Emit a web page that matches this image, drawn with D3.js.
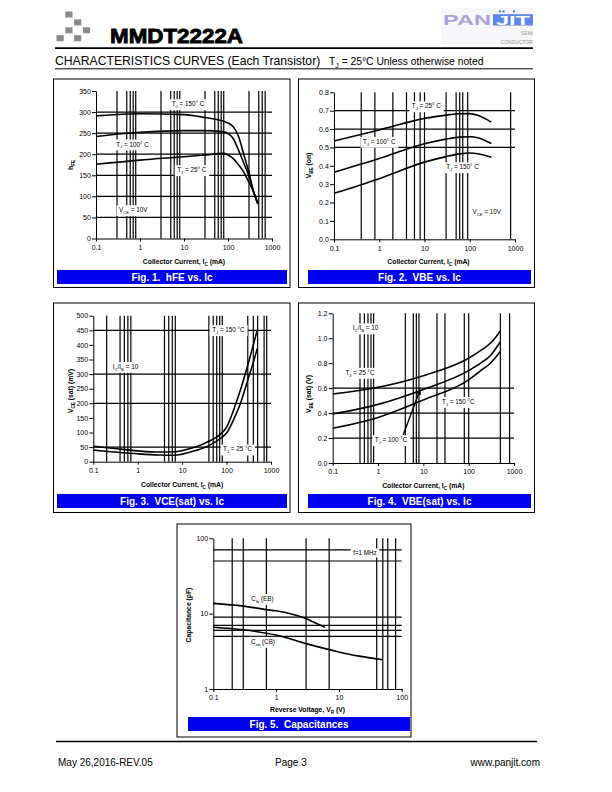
<!DOCTYPE html>
<html>
<head>
<meta charset="utf-8">
<title>MMDT2222A characteristics curves</title>
<script src="https://cdn.jsdelivr.net/npm/d3@7"></script>
<style>
  body { margin: 0; background: #fff; }
  svg { display: block; }
</style>
</head>
<body>
<script>
const FONT = "'Liberation Sans', Arial, Helvetica, sans-serif";
const BLUE = "#0000f0";

// ---- Fig. 1  hFE vs Ic
const hfeIc  = [0.1, 1, 10, 30, 80, 100, 130, 170, 230, 300, 380, 480];
const hfe150 = [291, 296, 294, 287, 278, 274, 266, 245, 198, 156, 111, 82];
const hfe100 = [242, 252, 256, 256, 253, 249, 238, 212, 178, 148, 111, 82];
const hfe25  = [176, 186, 194, 198, 202, 198, 190, 176, 157, 133, 111, 82];
const hfeTicks = [0, 50, 100, 150, 200, 250, 300, 350];
const hfeVGrid = [0.3, 0.5, 0.6, 0.7, 0.8, 3, 5, 6, 7, 8, 30, 50, 60, 70, 80, 300, 500, 600, 700];
const hfeHGrid = [50, 100, 150, 200, 250, 300];

// ---- Fig. 2  VBE(on) vs Ic
const vbeIc  = [0.1, 1, 10, 30, 60, 100, 150, 300];
const vbe25  = [0.535, 0.595, 0.658, 0.676, 0.683, 0.684, 0.675, 0.638];
const vbe100 = [0.365, 0.44, 0.52, 0.545, 0.556, 0.558, 0.553, 0.521];
const vbe150 = [0.25, 0.33, 0.42, 0.45, 0.465, 0.47, 0.466, 0.447];
const vbeTicks = [0, 0.1, 0.2, 0.3, 0.4, 0.5, 0.6, 0.7, 0.8];
const vbeVGrid = [0.4, 0.8, 2, 4, 6, 8, 10, 30, 50, 60, 70, 90, 800];
const vbeHGrid = [0.5, 0.6, 0.7];

// ---- Fig. 3  VCE(sat) vs Ic
const vceIc  = [0.1, 0.3, 1, 3, 7, 10, 20, 40, 70, 100, 150, 200, 300, 400, 490];
const vce150 = [53, 45, 37, 33, 34, 38, 50, 70, 92, 118, 185, 240, 330, 400, 450];
const vce25  = [40, 33, 27, 23, 22, 26, 38, 55, 78, 98, 150, 195, 280, 340, 388];
const vceTicks = [0, 50, 100, 150, 200, 250, 300, 350, 400, 450, 500];
const vceVGrid = [0.2, 0.4, 0.5, 0.6, 0.7, 4, 5, 6, 7, 40, 50, 60, 70, 80, 300, 400, 500, 700, 800];
const vceHGrid = [50, 200, 300, 450];

// ---- Fig. 4  VBE(sat) vs Ic
const vbsIc  = [0.1, 1, 10, 100, 200, 300, 400, 500];
const vbs25  = [0.553, 0.607, 0.70, 0.84, 0.91, 0.96, 1.01, 1.06];
const vbs100 = [0.393, 0.47, 0.59, 0.74, 0.81, 0.86, 0.92, 0.97];
const vbs150 = [0.278, 0.365, 0.505, 0.667, 0.75, 0.80, 0.85, 0.895];
const vbsTicks = [0, 0.2, 0.4, 0.6, 0.8, 1.0, 1.2];
const vbsVGrid = [0.4, 0.5, 0.6, 0.7, 0.8, 4, 6, 7, 8, 20, 30, 80, 100, 500, 800];
const vbsHGrid = [0.2, 0.4, 0.6];

// ---- Fig. 5  Capacitances
const cibV = [0.1, 0.3, 0.7, 1, 2, 3, 4, 6];
const cib  = [13.7, 12.6, 11.3, 10.9, 9.6, 8.6, 7.7, 6.6];
const cobV = [0.1, 0.3, 1, 3, 10, 20, 50];
const cob  = [6.6, 6.1, 5.2, 4.0, 3.1, 2.75, 2.45];
const capVGrid = [0.2, 0.3, 0.7, 3, 7, 40, 50, 60, 80];
const capHGrid = [5, 6, 7, 9, 50, 70];

const decadeTicks = [0.1, 1, 10, 100, 1000];
const TJ = t => ["T", {sub: "J"}, t];

const svg = d3.select("body").append("svg")
  .attr("width", 612).attr("height", 792)
  .attr("font-family", FONT);

// text with subscripts, parts = ["T", {sub:"J"}, " = 25"]
function rich(parent, x, y, parts, size, opt) {
  opt = opt || {};
  const t = parent.append("text")
    .attr("x", x).attr("y", y)
    .attr("font-size", size)
    .attr("text-anchor", opt.anchor || "middle")
    .attr("font-weight", opt.bold ? "bold" : null)
    .attr("fill", opt.fill || "#000")
    .style("white-space", "pre");
  let down = false;
  parts.forEach(p => {
    const isSub = typeof p !== "string";
    const ts = t.append("tspan").text(isSub ? p.sub : p);
    if (isSub) {
      ts.attr("font-size", size * 0.68).attr("dy", size * 0.3);
      down = true;
    } else if (down) {
      ts.attr("dy", -size * 0.3);
      down = false;
    }
  });
  return t;
}

function whiteBehind(parent, t, px, py) {
  const b = t.node().getBBox();
  parent.insert("rect", () => t.node())
    .attr("x", b.x - px).attr("y", b.y - py)
    .attr("width", b.width + 2 * px).attr("height", b.height + 2 * py)
    .attr("fill", "#fff");
}

function drawPanel(c) {
  const g = svg.append("g");
  g.append("rect")
    .attr("x", c.box[0]).attr("y", c.box[1])
    .attr("width", c.box[2] - c.box[0]).attr("height", c.box[3] - c.box[1])
    .attr("fill", "none").attr("stroke", "#000").attr("stroke-width", 1);
  g.append("rect")
    .attr("x", c.bar[0]).attr("y", c.bar[1])
    .attr("width", c.bar[2] - c.bar[0]).attr("height", c.bar[3] - c.bar[1])
    .attr("fill", BLUE);
  rich(g, (c.bar[0] + c.bar[2]) / 2, c.bar[3] - 3.4, [c.title], 10, {bold: true, fill: "#fff"});

  const x = d3.scaleLog().domain(c.xDomain).range([c.plot[0], c.plot[2]]);
  const y = (c.yLog ? d3.scaleLog() : d3.scaleLinear())
    .domain(c.yDomain).range([c.plot[3], c.plot[1]]);

  // grid
  g.append("g").selectAll("line").data(c.vGrid).join("line")
    .attr("x1", d => x(d)).attr("x2", d => x(d))
    .attr("y1", c.plot[3]).attr("y2", c.plot[1])
    .attr("stroke", "#000").attr("stroke-width", 1.2);
  g.append("g").selectAll("line").data(c.hGrid).join("line")
    .attr("x1", c.plot[0]).attr("x2", c.plot[2])
    .attr("y1", d => y(d)).attr("y2", d => y(d))
    .attr("stroke", "#000").attr("stroke-width", 1.2);

  // axes
  const xa = g.append("g").attr("transform", `translate(0,${c.plot[3]})`)
    .call(d3.axisBottom(x).tickValues(c.xTicks).tickFormat(d => String(d))
      .tickSize(3).tickSizeOuter(0).tickPadding(3.5));
  const ya = g.append("g").attr("transform", `translate(${c.plot[0]},0)`)
    .call(d3.axisLeft(y).tickValues(c.yTicks).tickFormat(c.yFormat)
      .tickSize(4).tickSizeOuter(0).tickPadding(1.2));
  [xa, ya].forEach(a => {
    a.attr("font-family", FONT).attr("font-size", 7);
    a.selectAll("line, path").attr("stroke", "#000");
  });

  // curves
  const line = d3.line().x(d => x(d[0])).y(d => y(d[1])).curve(d3.curveMonotoneX);
  c.series.forEach(s => {
    g.append("path").datum(d3.zip(s[0], s[1]))
      .attr("d", line)
      .attr("fill", "none").attr("stroke", "#000").attr("stroke-width", 1.6);
  });

  (c.arrows || []).forEach(a => {
    g.append("line")
      .attr("x1", x(a[0])).attr("y1", y(a[1]))
      .attr("x2", x(a[2])).attr("y2", y(a[3]))
      .attr("stroke", "#000").attr("stroke-width", 1.4)
      .attr("marker-end", "url(#arrowHead)");
  });

  // annotations
  c.labels.forEach(l => {
    const t = rich(g, x(l[0]), y(l[1]) + 2.2, l[2], 6.3);
    whiteBehind(g, t, 2.5, 1);
  });

  // axis titles
  rich(g, (c.plot[0] + c.plot[2]) / 2 + (c.xTitleDx || 0), c.xTitleY, c.xTitle, 6.8, {bold: true});
  const yt = g.append("g").attr("transform", `translate(${c.yTitlePos[0]},${c.yTitlePos[1]}) rotate(-90)`);
  rich(yt, 0, 0, c.yTitle, 6.8, {bold: true});
}

// arrow marker
svg.append("defs").append("marker")
  .attr("id", "arrowHead").attr("viewBox", "0 0 10 10")
  .attr("refX", 9).attr("refY", 5)
  .attr("markerWidth", 4).attr("markerHeight", 4)
  .attr("orient", "auto")
  .append("path").attr("d", "M0,0L10,5L0,10z").attr("fill", "#000");

// ---------- header
const logoCells = [[1, 0], [2, 1], [1, 2], [3, 2], [0, 3], [2, 3]];
svg.append("g").selectAll("rect").data(logoCells).join("rect")
  .attr("x", d => 56.5 + d[0] * 8.8).attr("y", d => 11.5 + d[1] * 7.9)
  .attr("width", 7.2).attr("height", 6)
  .attr("fill", "#8a8a8a");

svg.append("text").attr("x", 110).attr("y", 43.3)
  .attr("font-size", 19.5).attr("font-weight", "bold")
  .attr("stroke", "#000").attr("stroke-width", 0.8)
  .attr("textLength", 133).attr("lengthAdjust", "spacingAndGlyphs")
  .text("MMDT2222A");

// PANJIT logo
const logo = svg.append("g");
logo.append("rect").attr("x", 441).attr("y", 8).attr("width", 92).attr("height", 37).attr("fill", "#f7f7fa");
logo.append("text").attr("x", 443).attr("y", 25.3)
  .attr("font-size", 15.5).attr("font-weight", "bold").attr("fill", "#aaa3d8")
  .attr("textLength", 48).attr("lengthAdjust", "spacingAndGlyphs").text("PAN");
logo.append("rect").attr("x", 493).attr("y", 14.2).attr("width", 40).attr("height", 11.3).attr("fill", "#5b86e8");
logo.append("text").attr("x", 513).attr("y", 25)
  .attr("font-size", 12.5).attr("font-weight", "bold").attr("fill", "#fff")
  .attr("text-anchor", "middle").attr("textLength", 34).attr("lengthAdjust", "spacingAndGlyphs").text("JIT");
logo.selectAll("circle").data([500, 503.5, 514]).join("circle")
  .attr("cx", d => d).attr("cy", 11.5).attr("r", 1.2).attr("fill", "#5b86e8");
logo.append("text").attr("x", 533).attr("y", 35).attr("font-size", 5).attr("fill", "#999")
  .attr("text-anchor", "end").text("SEMI");
logo.append("text").attr("x", 533).attr("y", 43.5).attr("font-size", 5).attr("fill", "#999")
  .attr("text-anchor", "end").text("CONDUCTOR");

svg.append("line").attr("x1", 55).attr("x2", 533).attr("y1", 48.2).attr("y2", 48.2)
  .attr("stroke", "#000").attr("stroke-width", 1.8);
svg.append("text").attr("x", 55).attr("y", 64.5).attr("font-size", 12.2)
  .text("CHARACTERISTICS CURVES (Each Transistor)");
rich(svg, 329, 64.8, TJ(" = 25°C Unless otherwise noted"), 10.3, {anchor: "start"});
svg.append("line").attr("x1", 55).attr("x2", 533).attr("y1", 68.8).attr("y2", 68.8)
  .attr("stroke", "#000").attr("stroke-width", 1);

// ---------- panels
drawPanel({
  box: [53.5, 79, 290, 287.5], bar: [57, 270, 287, 284], plot: [96, 91, 272, 238.5],
  title: "Fig. 1.  hFE vs. Ic",
  xDomain: [0.1, 1000], yDomain: [0, 350], xTicks: decadeTicks, yTicks: hfeTicks, yFormat: d3.format("d"),
  vGrid: hfeVGrid, hGrid: hfeHGrid,
  series: [[hfeIc, hfe150], [hfeIc, hfe100], [hfeIc, hfe25]],
  labels: [
    [12.3, 319, TJ(" = 150° C")],
    [0.676, 223.5, TJ(" = 100° C")],
    [15, 162.5, TJ(" = 25° C")],
    [0.705, 67.6, ["V", {sub: "CE"}, " = 10V"]]
  ],
  xTitle: ["Collector Current, I", {sub: "C"}, " (mA)"], xTitleY: 263.5,
  yTitle: ["h", {sub: "FE"}], yTitlePos: [72.5, 165]
});

drawPanel({
  box: [298.5, 79, 534.5, 287.5], bar: [308, 270, 531, 284], plot: [334, 92.3, 515, 239.3],
  title: "Fig. 2.  VBE vs. Ic",
  xDomain: [0.1, 1000], yDomain: [0, 0.8], xTicks: decadeTicks, yTicks: vbeTicks, yFormat: d3.format(".1f"),
  vGrid: vbeVGrid, hGrid: vbeHGrid,
  series: [[vbeIc, vbe25], [vbeIc, vbe100], [vbeIc, vbe150]],
  labels: [
    [11, 0.725, TJ(" = 25° C")],
    [1.0, 0.531, TJ(" = 100° C")],
    [69, 0.393, TJ(" = 150° C")],
    [237, 0.15, ["V", {sub: "CE"}, " = 10V"]]
  ],
  xTitle: ["Collector Current, I", {sub: "C"}, " (mA)"], xTitleY: 263.5, xTitleDx: 4,
  yTitle: ["V", {sub: "BE"}, " (on)"], yTitlePos: [311, 165.5]
});

drawPanel({
  box: [53.5, 303, 290, 512.5], bar: [57, 494, 287, 508], plot: [93.3, 315.7, 271, 461.7],
  title: "Fig. 3.  VCE(sat) vs. Ic",
  xDomain: [0.1, 1000], yDomain: [0, 500], xTicks: decadeTicks, yTicks: vceTicks, yFormat: d3.format("d"),
  vGrid: vceVGrid, hGrid: vceHGrid,
  series: [[vceIc, vce150], [vceIc, vce25]],
  labels: [
    [110, 451, TJ(" = 150 °C")],
    [0.53, 325, ["I", {sub: "C"}, "/I", {sub: "B"}, " = 10"]],
    [177, 42.5, TJ(" = 25 °C")]
  ],
  xTitle: ["Collector Current, I", {sub: "C"}, " (mA)"], xTitleY: 487,
  yTitle: ["V", {sub: "CE"}, " (sat) (mV)"], yTitlePos: [72.5, 391]
});

drawPanel({
  box: [298.5, 303, 534.5, 512.5], bar: [308, 494, 531, 508], plot: [332.7, 313.3, 514, 463],
  title: "Fig. 4.  VBE(sat) vs. Ic",
  xDomain: [0.1, 1000], yDomain: [0, 1.2], xTicks: decadeTicks, yTicks: vbsTicks, yFormat: d3.format(".1f"),
  vGrid: vbsVGrid, hGrid: vbsHGrid,
  series: [[vbsIc, vbs25], [vbsIc, vbs100], [vbsIc, vbs150]],
  arrows: [[3.6, 0.226, 8.5, 0.59]],
  labels: [
    [0.53, 1.08, ["I", {sub: "C"}, "/I", {sub: "B"}, " = 10"]],
    [0.4, 0.724, TJ(" = 25 °C")],
    [59, 0.491, TJ(" = 150 °C")],
    [1.94, 0.184, TJ(" = 100 °C")]
  ],
  xTitle: ["Collector Current, I", {sub: "C"}, " (mA)"], xTitleY: 487.5,
  yTitle: ["V", {sub: "BE"}, " (sat) (V)"], yTitlePos: [311, 394]
});

drawPanel({
  box: [177, 524, 411, 737], bar: [188, 717, 410, 731], plot: [213.3, 538.3, 401.7, 689],
  title: "Fig. 5.  Capacitances",
  xDomain: [0.1, 100], yDomain: [1, 100], yLog: true,
  xTicks: [0.1, 1, 10, 100], yTicks: [1, 10, 100], yFormat: d => String(d),
  vGrid: capVGrid, hGrid: capHGrid,
  series: [[cibV, cib], [cobV, cob]],
  labels: [
    [0.607, 15.7, ["C", {sub: "ib"}, " (EB)"]],
    [0.618, 4.25, ["C", {sub: "ob"}, " (CB)"]],
    [26, 63.4, ["f=1 MHz"]]
  ],
  xTitle: ["Reverse Voltage, V", {sub: "R"}, " (V)"], xTitleY: 711.5,
  yTitle: ["Capacitance (pF)"], yTitlePos: [191, 615]
});

// ---------- footer
svg.append("line").attr("x1", 56).attr("x2", 537).attr("y1", 741.5).attr("y2", 741.5)
  .attr("stroke", "#000").attr("stroke-width", 1.3);
svg.append("text").attr("x", 58).attr("y", 766).attr("font-size", 10).text("May 26,2016-REV.05");
svg.append("text").attr("x", 275).attr("y", 766).attr("font-size", 10).text("Page 3");
svg.append("text").attr("x", 540).attr("y", 766).attr("font-size", 10)
  .attr("text-anchor", "end").text("www.panjit.com");
</script>
</body>
</html>
